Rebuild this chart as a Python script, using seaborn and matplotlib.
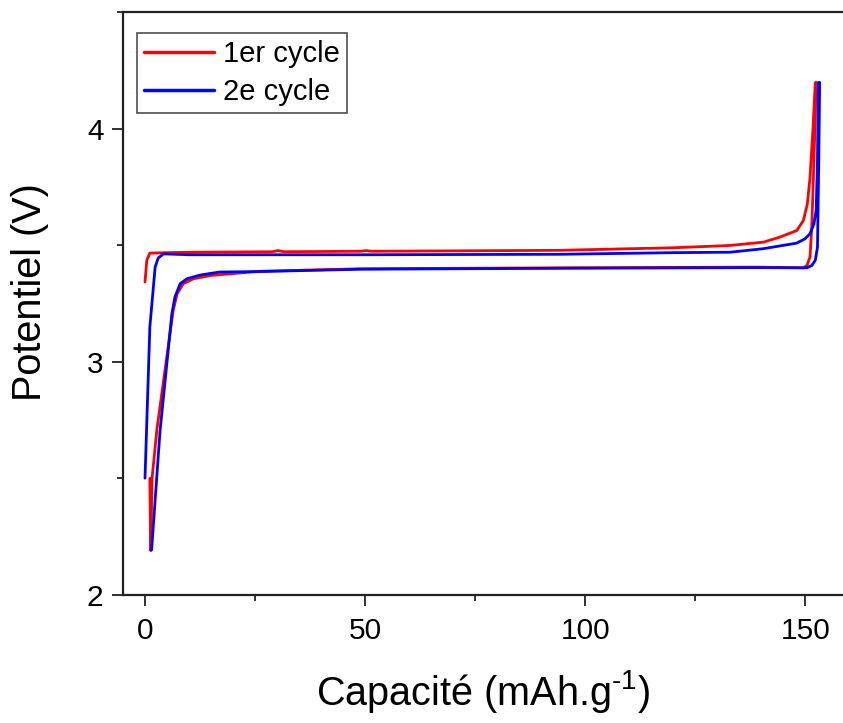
import numpy as np
import pandas as pd
import matplotlib.pyplot as plt
import seaborn as sns
from matplotlib.ticker import MultipleLocator

## galvanostatic cycling, capacity (mAh/g) vs potential (V)
cycles = ['1er cycle', '2e cycle']
colors = ['#ff0000', '#0000ff']

## 1er cycle : charge then discharge, then relaxation
cap_1 = [0.0, 0.4, 1.1, 5.0, 10.9, 20.0, 29.0, 30.2, 31.5, 49.0, 50.2, 51.5, 94.0,
         120.0, 133.0, 140.5, 144.3, 148.1, 149.6, 150.5, 151.1, 151.8, 152.3,
         152.5, 152.0, 151.5, 151.1, 150.4, 149.6, 139.0, 94.0, 49.0, 26.0,
         14.8, 11.0, 8.7, 7.3, 6.4, 2.7, 1.6, 1.3, 1.1]
pot_1 = [3.342, 3.435, 3.466, 3.468, 3.470, 3.471, 3.472, 3.477, 3.472, 3.474, 3.477, 3.474, 3.478,
         3.489, 3.499, 3.513, 3.535, 3.563, 3.606, 3.677, 3.79, 4.005, 4.198,
         4.198, 3.863, 3.577, 3.449, 3.413, 3.403, 3.406, 3.403, 3.399, 3.388,
         3.370, 3.356, 3.335, 3.292, 3.22, 2.71, 2.50, 2.19, 2.50]

## 2e cycle
cap_2 = [0.0, 1.1, 2.3, 3.0, 4.2, 10.0, 49.0, 94.0, 120.0, 133.0, 140.5,
         148.1, 150.0, 151.1, 152.0, 152.5, 152.8, 153.0,
         153.3, 153.1, 152.8, 152.3, 151.5, 150.4, 139.0, 94.0, 49.0, 26.0, 17.0,
         12.5, 9.5, 8.0, 6.8, 6.1, 3.4, 1.5]
pot_2 = [2.501, 3.149, 3.406, 3.445, 3.463, 3.459, 3.459, 3.461, 3.468, 3.470, 3.485,
         3.509, 3.528, 3.549, 3.592, 3.649, 3.863, 4.198,
         4.198, 3.863, 3.492, 3.435, 3.413, 3.403, 3.404, 3.401, 3.397, 3.387, 3.385,
         3.372, 3.356, 3.335, 3.278, 3.206, 2.70, 2.193]

df = pd.concat([
    pd.DataFrame({'cap': cap_1, 'pot': pot_1, 'cycle': cycles[0]}),
    pd.DataFrame({'cap': cap_2, 'pot': pot_2, 'cycle': cycles[1]}),
], ignore_index=True)

sns.set_theme(style='ticks')
plt.rcParams['font.family'] = ['Liberation Sans', 'DejaVu Sans']
plt.rcParams['mathtext.fontset'] = 'custom'
plt.rcParams['mathtext.rm'] = 'Liberation Sans'
plt.rcParams['axes.unicode_minus'] = False
plt.rcParams['text.color'] = 'black'
plt.rcParams['axes.labelcolor'] = 'black'
plt.rcParams['xtick.color'] = 'black'
plt.rcParams['ytick.color'] = 'black'

fig = plt.figure(figsize=(8.43, 7.23), dpi=100)
ax = fig.add_axes([123/843, 128/723, 720/843, 583/723])

sns.lineplot(data=df, x='cap', y='pot', hue='cycle', palette=colors,
             sort=False, estimator=None, lw=2.0, ax=ax)

ax.set_xlim(-5, 158.6)
ax.set_ylim(2, 4.5)
ax.xaxis.set_major_locator(MultipleLocator(50))
ax.xaxis.set_minor_locator(MultipleLocator(25))
ax.yaxis.set_major_locator(MultipleLocator(1))
ax.yaxis.set_minor_locator(MultipleLocator(0.5))

ax.tick_params(which='major', direction='out', length=8, width=1.3,
               labelsize=21.5, color='#222222', pad=6)
ax.tick_params(which='minor', direction='out', length=4, width=1.3, color='#222222')
ax.tick_params(axis='x', which='major', pad=8)

ax.spines['right'].set_visible(False)
for side in ['left', 'bottom', 'top']:
    ax.spines[side].set_linewidth(1.6)
    ax.spines[side].set_color('#222222')

ax.set_xlabel('Capacité (mAh.g$^{\\text{-1}}$)', fontsize=28.5)
ax.set_ylabel('Potentiel (V)', fontsize=28.5)
ax.xaxis.set_label_coords(0.5, -0.125)
ax.yaxis.set_label_coords(-0.103, 0.52)

leg = ax.legend(loc='upper left', bbox_to_anchor=(0.0194, 0.964), borderaxespad=0,
                fontsize=21, frameon=True, fancybox=False, handlelength=2.4,
                handletextpad=0.3, borderpad=0.25, labelspacing=0.34)
leg.get_frame().set_edgecolor('#222222')
leg.get_frame().set_linewidth(1.2)
for line in leg.get_lines():
    line.set_linewidth(2.5)

fig.savefig('out.png', dpi=100)
